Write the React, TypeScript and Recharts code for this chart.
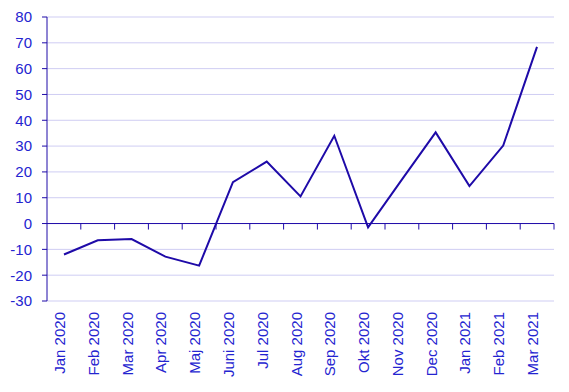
import React from "react";
import { LineChart, Line, CartesianGrid, XAxis, YAxis, ReferenceLine } from "recharts";

const months = [
  "Jan 2020", "Feb 2020", "Mar 2020", "Apr 2020", "Maj 2020", "Juni 2020", "Jul 2020",
  "Aug 2020", "Sep 2020", "Okt 2020", "Nov 2020", "Dec 2020", "Jan 2021", "Feb 2021", "Mar 2021",
];
const values = [-12, -6.5, -6, -12.8, -16.3, 16, 24, 10.5, 34, -1.5, 17, 35.3, 14.5, 30.2, 68.4];
const yTicks = [-30, -20, -10, 0, 10, 20, 30, 40, 50, 60, 70, 80];

const data = months.map((m, i) => ({ month: m, value: values[i] }));

const TEXT = "#2424d0";
const AXIS = "#1e0aa8";
const GRID = "#cfcdf3";
const PAD = 17;

function MonthTick({ x, y, payload }: any) {
  return (
    <g transform={`translate(${x},${y})`}>
      <text transform="rotate(-90)" textAnchor="end" dy={1} fill={TEXT} fontSize={15}>
        {payload.value}
      </text>
    </g>
  );
}

// zero line doubles as the x axis, with tick marks between months
function ZeroAxis({ x1, y1, x2 }: any) {
  const left = Math.min(x1, x2);
  const right = Math.max(x1, x2);
  const n = months.length;
  const step = (right - left) / n;
  const marks = [];
  for (let i = 1; i <= n; i++) {
    const tx = left + step * i;
    marks.push(<line key={i} x1={tx} x2={tx} y1={y1} y2={y1 + 6} stroke={AXIS} strokeWidth={1} />);
  }
  return (
    <g>
      <line x1={left} y1={y1} x2={right} y2={y1} stroke={AXIS} strokeWidth={1} />
      {marks}
    </g>
  );
}

export default function App() {
  return (
    <div style={{ position: "absolute", left: 0, top: 0, fontFamily: "'Liberation Sans', Arial, sans-serif" }}>
      <LineChart width={569} height={392} data={data} margin={{ top: 17, right: 15, bottom: 0, left: 0 }}>
        <CartesianGrid vertical={false} stroke={GRID} />
        <XAxis
          dataKey="month"
          height={91}
          axisLine={false}
          tickLine={false}
          tickMargin={5}
          interval={0}
          padding={{ left: PAD, right: PAD }}
          tick={<MonthTick />}
        />
        <YAxis
          width={47}
          domain={[-30, 80]}
          ticks={yTicks}
          interval={0}
          tick={{ fill: TEXT, fontSize: 15 }}
          tickSize={5}
          tickMargin={10}
          axisLine={{ stroke: AXIS }}
          tickLine={{ stroke: AXIS }}
        />
        <ReferenceLine y={0} shape={<ZeroAxis />} />
        <Line
          type="linear"
          dataKey="value"
          stroke={AXIS}
          strokeWidth={2}
          dot={false}
          isAnimationActive={false}
        />
      </LineChart>
    </div>
  );
}
